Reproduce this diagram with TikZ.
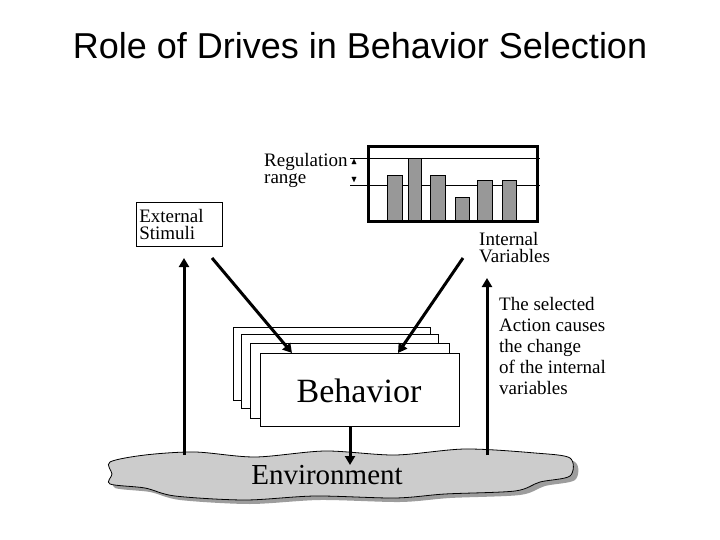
\documentclass[tikz,border=0pt]{standalone}
\usepackage{amssymb}
\usepackage{fontspec}
\setmainfont{Liberation Serif}
\setsansfont{Liberation Sans}
\usetikzlibrary{arrows.meta}
\begin{document}
\begin{tikzpicture}[x=1pt,y=-1pt,
  lbl/.style={font=\fontsize{19}{17}\selectfont,align=left,inner sep=0},
  bar/.style={draw,fill=gray!85!black!70,line width=0.8pt},
  stk/.style={draw,fill=white,line width=0.7pt},
  arr/.style={line width=3pt,-{Triangle[length=9pt,width=10pt]}}]
\useasboundingbox (0,0) rectangle (720,540);
\node[font=\sffamily\fontsize{36}{38}\selectfont] (title) at (360,46) {Role of Drives in Behavior Selection};
% cloud
\fill[gray!40!black!60,opacity=0.8] plot[smooth cycle] coordinates {(120,466)(150,458)(200,455)(260,460)(330,454)(400,458)(470,452)(540,456)(575,462)(575,480)(545,486)(520,495)(450,498)(400,502)(320,500)(250,504)(180,500)(150,492)(115,488)(116,478)};
\draw[fill=gray!40,line width=0.8pt] plot[smooth cycle] coordinates {(110,462)(145,455)(195,452)(255,457)(325,451)(395,455)(465,449)(535,453)(570,458)(570,476)(540,482)(515,491)(445,494)(395,498)(315,496)(245,500)(175,496)(145,488)(110,484)(112,474)};
\node[font=\fontsize{29}{29}\selectfont] (env) at (327,475) {Environment};
% behavior stack
\draw[stk] (233,327) rectangle (430,400);
\draw[stk] (241,334) rectangle (438,408);
\draw[stk] (250,343) rectangle (449,418);
\draw[stk] (260,353) rectangle (459,426);
\node[font=\fontsize{34}{34}\selectfont] (beh) at (359,391) {Behavior};
\coordinate (bhb) at (350,426);
% bar chart
\draw[line width=0.6pt] (350,158) -- (540,158);
\draw[line width=0.6pt] (350,185) -- (540,185);
\draw[bar] (387,222) rectangle (402,175);
\draw[bar] (408,222) rectangle (421,158);
\draw[bar] (430,222) rectangle (445,175);
\draw[bar] (455,222) rectangle (469,197);
\draw[bar] (477,222) rectangle (492,180);
\draw[bar] (502,222) rectangle (516,180);
\draw[line width=3pt] (368,147) rectangle (537,222);
\node[lbl,anchor=north west] (reg) at (264,153) {Regulation\\range};
\node[font=\small,inner sep=0] (up) at (354,162) {$\blacktriangle$};
\node[font=\small,inner sep=0] (dn) at (354,180) {$\blacktriangledown$};
% external stimuli
\node[draw,line width=0.6pt,lbl,inner sep=0pt,anchor=north west,minimum width=86pt,minimum height=44pt,text width=80pt] (ext) at (136,202) {External\\Stimuli};
\node[lbl,anchor=north west] (iv) at (479,232) {Internal\\Variables};
\node[lbl,anchor=north west,font=\fontsize{19}{21}\selectfont] (sel) at (499,297) {The selected\\Action causes\\the change\\of the internal\\variables};
% arrows
\coordinate (l0) at (184,455); \coordinate (l1) at (184,258);
\coordinate (r0) at (487,455); \coordinate (r1) at (487,278);
\coordinate (d0) at (212,258); \coordinate (d1) at (292,353);
\coordinate (e0) at (463,258); \coordinate (e1) at (398,353);
\coordinate (envtop) at (350,465);
\draw[arr] (l0) -- (l1);
\draw[arr] (r0) -- (r1);
\draw[arr] (d0) -- (d1);
\draw[arr] (e0) -- (e1);
\draw[arr] (bhb) -- (envtop);
\end{tikzpicture}
\end{document}
